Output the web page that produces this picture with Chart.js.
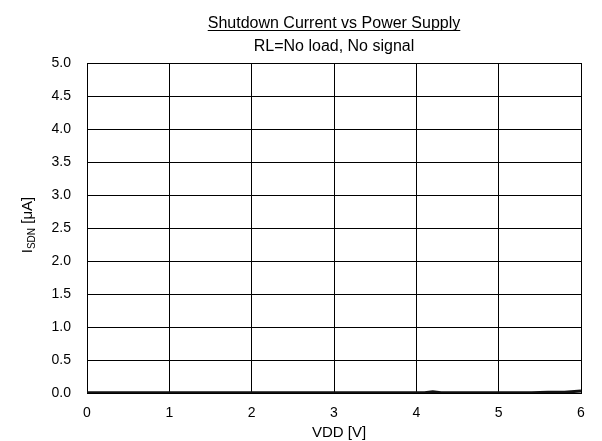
<!DOCTYPE html>
<html>
<head>
<meta charset="utf-8">
<script src="https://cdn.jsdelivr.net/npm/chart.js@4.4.0/dist/chart.umd.min.js"></script>
<style>
  html, body { margin: 0; padding: 0; background: #fff; }
  #wrap { width: 602px; height: 441px; position: relative; }
</style>
</head>
<body>
<div id="wrap"><canvas id="chart" width="602" height="441"></canvas></div>
<script>
const TITLE = "Shutdown Current vs Power Supply";
const SUBTITLE = "RL=No load, No signal";
const X_TITLE = "VDD [V]";

// supply voltage (V) and measured shutdown current (uA)
const vdd = [0, 0.2, 0.4, 0.6, 0.8, 1.0, 1.2, 1.4, 1.6, 1.8, 2.0, 2.2, 2.4, 2.6, 2.8, 3.0,
             3.2, 3.4, 3.6, 3.8, 4.0, 4.1, 4.2, 4.3, 4.4, 4.6, 4.8, 5.0, 5.2, 5.4, 5.6, 5.8, 6.0];
const isdn = [0.005, 0.005, 0.005, 0.005, 0.005, 0.005, 0.005, 0.005, 0.005, 0.005, 0.005, 0.005,
              0.005, 0.005, 0.005, 0.005, 0.005, 0.005, 0.005, 0.005, 0.005, 0.005, 0.02, 0.005,
              0.005, 0.005, 0.005, 0.005, 0.005, 0.005, 0.012, 0.013, 0.03];

const xTicks = [0, 1, 2, 3, 4, 5, 6];
const yTicks = [0, 0.5, 1, 1.5, 2, 2.5, 3, 3.5, 4, 4.5, 5];

const FONT = '"Liberation Sans", Arial, sans-serif';

// title (underlined) and axis titles with subscript
const textPlugin = {
  id: "texts",
  afterDraw(chart) {
    const ctx = chart.ctx;
    const a = chart.chartArea;
    const cx = (a.left + a.right) / 2;
    ctx.save();
    ctx.fillStyle = "#000";
    ctx.textAlign = "center";
    ctx.textBaseline = "alphabetic";
    ctx.font = "16px " + FONT;
    ctx.fillText(TITLE, cx, 28);
    const w = ctx.measureText(TITLE).width;
    ctx.fillRect(cx - w / 2, 30, w, 1);
    ctx.fillText(SUBTITLE, cx, 51);

    ctx.font = "15px " + FONT;
    ctx.fillText(X_TITLE, cx + 5, 437);

    // y title: I_SDN [μA]
    ctx.translate(27, (a.top + a.bottom) / 2 - 3);
    ctx.rotate(-Math.PI / 2);
    ctx.textAlign = "left";
    const big = "15px " + FONT, small = "10px " + FONT;
    ctx.font = big; const w1 = ctx.measureText("I").width;
    ctx.font = small; const w2 = ctx.measureText("SDN").width;
    ctx.font = big; const w3 = ctx.measureText(" [\u03BCA]").width;
    let x = -(w1 + w2 + w3) / 2;
    ctx.font = big; ctx.fillText("I", x, 5); x += w1;
    ctx.font = small; ctx.fillText("SDN", x, 8); x += w2;
    ctx.font = big; ctx.fillText(" [\u03BCA]", x, 5);
    ctx.restore();
  }
};

new Chart(document.getElementById("chart"), {
  type: "line",
  data: {
    labels: vdd,
    datasets: [{
      data: vdd.map((v, i) => ({ x: v, y: isdn[i] })),
      borderColor: "#111",
      borderWidth: 3,
      pointRadius: 0,
      tension: 0,
    }],
  },
  options: {
    responsive: false,
    animation: false,
    layout: { padding: { top: 63, right: 21, left: 0, bottom: 0 } },
    plugins: { legend: { display: false }, tooltip: { enabled: false } },
    scales: {
      x: {
        type: "linear",
        min: 0, max: 6,
        afterBuildTicks: s => { s.ticks = xTicks.map(v => ({ value: v })); },
        afterFit: s => { s.height = 48; },
        grid: { color: "#000", lineWidth: 1, drawTicks: false },
        border: { color: "#000", width: 1 },
        ticks: { color: "#000", padding: 12, font: { family: FONT, size: 14 }, maxRotation: 0 },
      },
      y: {
        min: 0, max: 5,
        afterBuildTicks: s => { s.ticks = yTicks.map(v => ({ value: v })); },
        afterFit: s => { s.width = 87; },
        grid: { color: "#000", lineWidth: 1, drawTicks: false },
        border: { color: "#000", width: 1 },
        ticks: { color: "#000", padding: 16, font: { family: FONT, size: 14 },
                 callback: v => v.toFixed(1) },
      },
    },
  },
  plugins: [textPlugin],
});
</script>
</body>
</html>
